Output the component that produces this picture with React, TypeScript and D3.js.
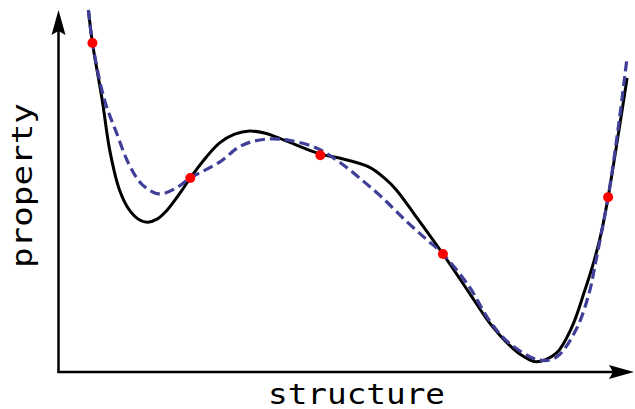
import React from "react";
import * as d3 from "d3";

// true property curve (black)
const trueX = [0.52, 0.59, 0.76, 0.89, 1.06, 1.23, 1.41, 1.55, 1.72, 1.875, 2.01, 2.15, 2.29, 2.57, 2.8, 3.06, 3.32, 3.58, 3.79, 4.18, 4.55, 4.88, 5.4, 5.66, 5.87, 6.22, 6.68, 7.14, 7.48, 7.83, 8.07, 8.3, 8.65, 8.92, 9.13, 9.31, 9.43, 9.55, 9.74, 9.88];
const trueY = [10.0, 9.09, 7.51, 6.13, 5.03, 4.48, 4.2, 4.14, 4.23, 4.45, 4.72, 5.03, 5.36, 5.94, 6.33, 6.57, 6.66, 6.6, 6.49, 6.24, 6.02, 5.91, 5.66, 5.36, 5.03, 4.28, 3.26, 2.18, 1.38, 0.75, 0.44, 0.28, 0.52, 1.24, 2.18, 3.09, 3.84, 4.83, 6.69, 8.12];

// fitted surrogate curve (dashed)
const fitX = [0.52, 0.59, 0.8, 1.01, 1.23, 1.46, 1.75, 2.05, 2.29, 2.8, 3.14, 3.4, 3.7, 4.01, 4.48, 4.88, 5.23, 5.63, 6.04, 6.39, 6.68, 7.14, 7.48, 7.83, 8.35, 8.65, 8.99, 9.22, 9.34, 9.55, 9.74, 9.88];
const fitY = [10.0, 9.09, 7.51, 6.6, 5.72, 5.17, 4.92, 5.09, 5.36, 5.8, 6.22, 6.38, 6.44, 6.4, 6.19, 5.8, 5.36, 4.81, 4.17, 3.67, 3.26, 2.35, 1.44, 0.8, 0.33, 0.41, 1.16, 2.18, 3.09, 4.83, 6.91, 8.7];

// sampled observations (red)
const sampleX = [0.59, 2.29, 4.55, 6.68, 9.55];
const sampleY = [9.09, 5.36, 5.99, 3.26, 4.83];

const xLabel = "structure";
const yLabel = "property";

const W = 635;
const H = 409;

export default function App() {
  const x = d3.scaleLinear().domain([0, 10]).range([58.5, 634]);
  const y = d3.scaleLinear().domain([0, 10]).range([372, 10]);

  const line = d3
    .line<[number, number]>()
    .x((d) => x(d[0]))
    .y((d) => y(d[1]))
    .curve(d3.curveCatmullRom.alpha(0.5));

  const trueData = trueX.map((v, i) => [v, trueY[i]] as [number, number]);
  const fitData = fitX.map((v, i) => [v, fitY[i]] as [number, number]);

  const x0 = x(0);
  const y0 = y(0);
  const xEnd = x(10);
  const yTop = y(10);

  return (
    <svg
      width={W}
      height={H}
      style={{ position: "absolute", left: 0, top: 0, background: "#fff" }}
    >
      <path d={line(trueData) || ""} fill="none" stroke="#000" strokeWidth={3} />
      <path
        d={line(fitData) || ""}
        fill="none"
        stroke="#3f3f99"
        strokeWidth={3.2}
        strokeDasharray="10,5"
      />
      {sampleX.map((v, i) => (
        <circle key={i} cx={x(v)} cy={y(sampleY[i])} r={5} fill="#ff0000" />
      ))}
      {/* axes */}
      <line x1={x0} y1={y0 + 1} x2={x0} y2={yTop + 20} stroke="#000" strokeWidth={2.5} />
      <path
        d={`M${x0},${yTop} L${x0 - 7},${yTop + 25} L${x0},${yTop + 21} L${x0 + 7},${yTop + 25} Z`}
        fill="#000"
      />
      <line x1={x0 - 1} y1={y0} x2={xEnd - 20} y2={y0} stroke="#000" strokeWidth={2.5} />
      <path
        d={`M${xEnd},${y0} L${xEnd - 25},${y0 - 7} L${xEnd - 21},${y0} L${xEnd - 25},${y0 + 7} Z`}
        fill="#000"
      />
      <text
        x={356.5}
        y={404}
        textAnchor="middle"
        fontFamily="DejaVu Sans Mono"
        fontSize={28}
        textLength={177}
        lengthAdjust="spacingAndGlyphs"
        fill="#000"
      >
        {xLabel}
      </text>
      <text
        transform={`translate(32,185.5) rotate(-90)`}
        textAnchor="middle"
        fontFamily="DejaVu Sans Mono"
        fontSize={29}
        textLength={165}
        lengthAdjust="spacingAndGlyphs"
        fill="#000"
      >
        {yLabel}
      </text>
    </svg>
  );
}
